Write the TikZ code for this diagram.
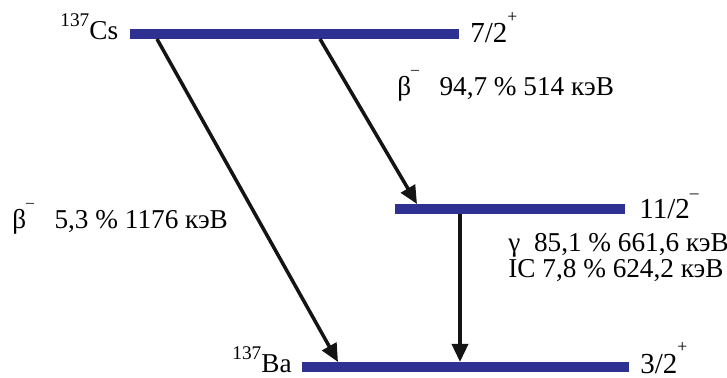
\documentclass[tikz,border=0pt]{standalone}
\usepackage{fontspec}
\setmainfont{Liberation Serif}
\usepackage{xcolor}
\definecolor{levelblue}{RGB}{46, 49, 146}
\definecolor{arrowblack}{RGB}{20, 20, 20}
\usepackage{tikz}
\usetikzlibrary{arrows.meta, calc}

\newcommand{\spinsup}[1]{\raisebox{0.72em}{\fontsize{10}{10}\selectfont #1}}
\newcommand{\nucsup}[1]{\raisebox{0.5em}{\fontsize{11}{11}\selectfont #1}}
\newcommand{\betasup}{\raisebox{0.8em}{\fontsize{9}{9}\selectfont –}}

\begin{document}
\begin{tikzpicture}[>={Triangle[length=0.36cm, width=0.32cm]},
    level/.style={line width=0.2cm, levelblue},
    decay/.style={line width=2pt, arrowblack, ->},
    spin/.style={anchor=base west, inner sep=0pt, font=\fontsize{16.5}{18}\selectfont},
    nuclide/.style={anchor=base east, inner sep=0pt, font=\fontsize{15.5}{18}\selectfont},
    info/.style={anchor=base west, inner sep=0pt, align=left, font=\fontsize{15.5}{16}\selectfont}]
    \useasboundingbox (0, 0) rectangle (14.54, 7.56);

    \coordinate (CsL) at (2.6, 6.88);
    \coordinate (CsR) at (9.18, 6.88);
    \coordinate (MidL) at (7.9, 3.38);
    \coordinate (MidR) at (12.5, 3.38);
    \coordinate (BaL) at (6.04, 0.22);
    \coordinate (BaR) at (12.58, 0.22);

    \draw[level] (CsL) -- (CsR);
    \draw[level] (MidL) -- (MidR);
    \draw[level] (BaL) -- (BaR);

    \coordinate (BetaOneStart) at (3.14, 6.78);
    \coordinate (BetaOneEnd) at (6.76, 0.32);
    \coordinate (BetaTwoStart) at (6.4, 6.78);
    \coordinate (BetaTwoEnd) at (8.34, 3.48);
    \coordinate (GammaStart) at (9.2, 3.28);
    \coordinate (GammaEnd) at (9.2, 0.32);

    \draw[decay] (BetaOneStart) -- (BetaOneEnd);
    \draw[decay] (BetaTwoStart) -- (BetaTwoEnd);
    \draw[decay] (GammaStart) -- (GammaEnd);

    \node[nuclide] (cs) at (2.37, 6.76) {\nucsup{137}Cs};
    \node[nuclide] (ba) at (5.84, 0.1) {\nucsup{137}Ba};
    \node[spin] (csspin) at (9.4, 6.7) {7/2\spinsup{+}};
    \node[spin] (midspin) at (12.78, 3.18) {11/2\spinsup{–}};
    \node[spin] (baspin) at (12.8, 0.09) {3/2\spinsup{+}};

    \node[info] (betatwo) at (7.94, 5.64) {β\betasup\ \ \ 94,7 \% 514 кэВ};
    \node[info] (betaone) at (0.24, 2.98) {β\betasup\ \ \ 5,3 \% 1176 кэВ};
    \node[info] (gamma) at (10.16, 2.0) {γ\ \ 85,1 \% 661,6 кэВ\\[-1pt]IC 7,8 \% 624,2 кэВ};
\end{tikzpicture}
\end{document}
